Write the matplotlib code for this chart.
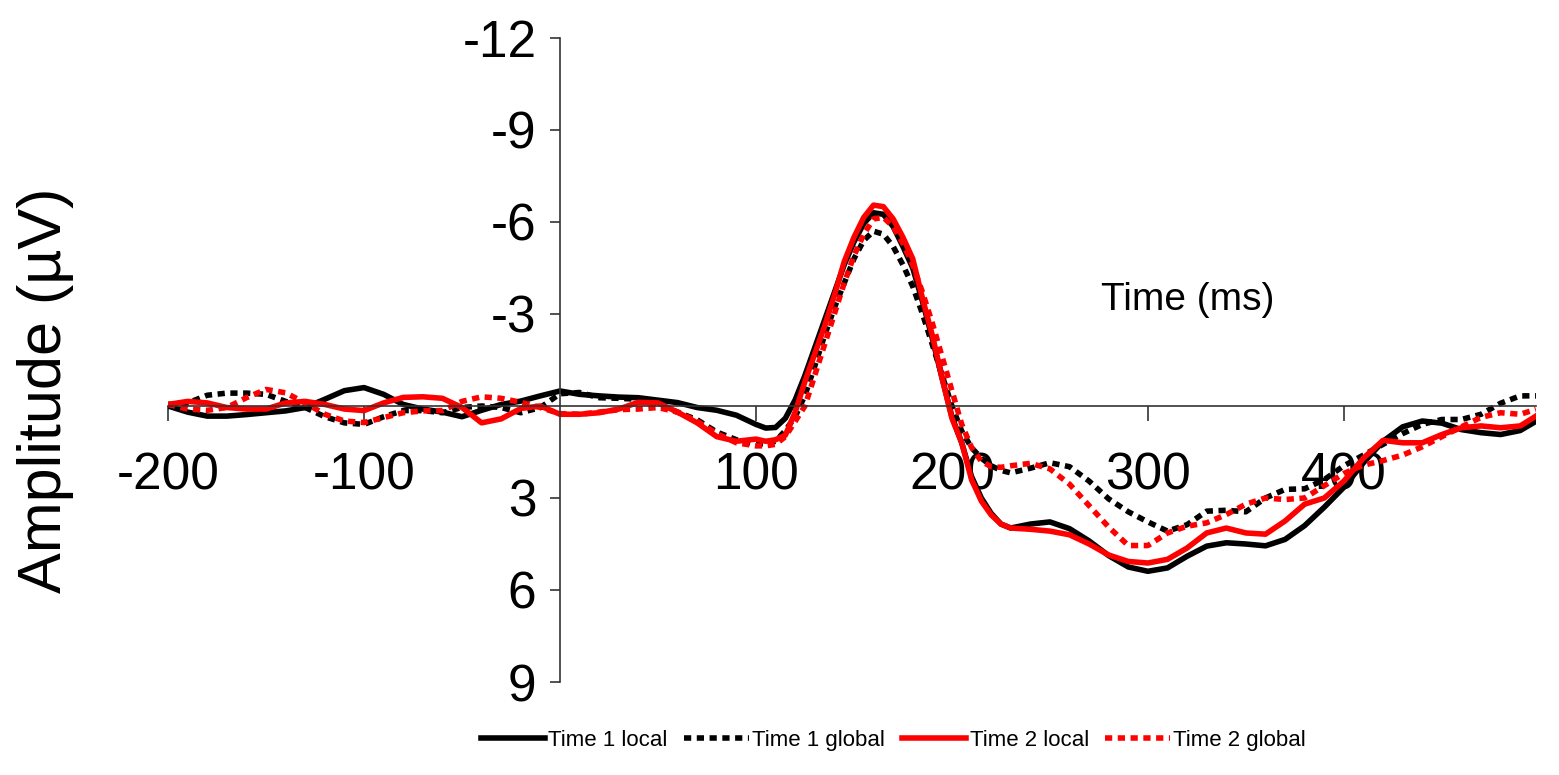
import numpy as np
import matplotlib
matplotlib.use("Agg")
import matplotlib.pyplot as plt

plt.rcParams['font.family'] = ['Liberation Sans', 'DejaVu Sans']
plt.rcParams['axes.unicode_minus'] = False

# time points (ms)
time_ms = [-200, -190, -180, -170, -160, -150, -140, -130, -120, -110, -100, -90, -80, -70, -60,
           -50, -40, -30, -20, -10, 0, 10, 20, 30, 40, 50, 60, 70, 80, 90, 100,
           105, 110, 115, 120, 125, 130, 135, 140, 145, 150, 155, 160, 165, 170, 175, 180,
           185, 190, 195, 200, 205, 210, 215, 220, 225, 230,
           240, 250, 260, 270, 280, 290, 300, 310, 320, 330, 340, 350, 360, 370, 380, 390,
           400, 410, 420, 430, 440, 450, 460, 470, 480, 490, 498]

time1_local = [0.0, 0.2, 0.33, 0.33, 0.28, 0.22, 0.16, 0.05, -0.22, -0.5, -0.6, -0.38, -0.05, 0.1, 0.2,
               0.35, 0.14, -0.05, -0.16, -0.33, -0.49, -0.38, -0.33, -0.29, -0.27, -0.19, -0.11, 0.05, 0.14, 0.3, 0.6,
               0.72, 0.7, 0.4, -0.2, -1.0, -1.9, -2.8, -3.7, -4.6, -5.35, -5.95, -6.3, -6.25, -5.85, -5.2, -4.5,
               -3.4, -2.2, -0.9, 0.35, 1.2, 2.3, 3.0, 3.5, 3.85, 3.98,
               3.85, 3.78, 4.0, 4.4, 4.88, 5.25, 5.39, 5.28, 4.9, 4.57, 4.46, 4.5, 4.56, 4.35, 3.9, 3.3,
               2.65, 1.85, 1.15, 0.68, 0.49, 0.56, 0.77, 0.87, 0.93, 0.8, 0.5]

time1_global = [-0.05, -0.1, -0.35, -0.42, -0.42, -0.38, -0.15, 0.05, 0.35, 0.55, 0.6, 0.35, 0.15, 0.15, 0.22,
                0.05, 0.0, 0.05, 0.22, 0.05, -0.4, -0.44, -0.27, -0.25, -0.22, -0.05, 0.2, 0.45, 0.85, 1.1, 1.25,
                1.22, 1.15, 0.8, 0.35, -0.35, -1.3, -2.3, -3.2, -4.0, -4.8, -5.4, -5.7, -5.6, -5.2, -4.6, -3.9,
                -3.0, -2.0, -1.0, 0.0, 0.82, 1.36, 1.7, 1.95, 2.1, 2.18,
                2.03, 1.85, 1.98, 2.45, 3.03, 3.45, 3.78, 4.08, 3.87, 3.43, 3.4, 3.45, 3.0, 2.72, 2.7, 2.4,
                1.95, 1.6, 1.25, 0.9, 0.6, 0.44, 0.44, 0.27, -0.09, -0.33, -0.33]

time2_local = [-0.05, -0.15, -0.1, 0.05, 0.1, 0.1, -0.1, -0.15, -0.05, 0.1, 0.15, -0.1, -0.28, -0.3, -0.25,
               0.05, 0.55, 0.42, 0.08, 0.0, 0.27, 0.27, 0.22, 0.1, -0.12, -0.1, 0.2, 0.55, 1.0, 1.15, 1.08,
               1.15, 1.1, 0.95, 0.2, -0.8, -1.7, -2.6, -3.6, -4.7, -5.5, -6.15, -6.55, -6.5, -6.1, -5.5, -4.8,
               -3.5, -2.3, -0.9, 0.4, 1.2, 2.4, 3.1, 3.55, 3.85, 3.98,
               4.02, 4.08, 4.2, 4.5, 4.86, 5.07, 5.12, 5.0, 4.63, 4.14, 3.98, 4.14, 4.18, 3.75, 3.2, 3.0,
               2.45, 1.7, 1.12, 1.2, 1.2, 0.93, 0.71, 0.65, 0.71, 0.65, 0.33]

time2_global = [-0.05, 0.1, 0.14, 0.05, -0.27, -0.54, -0.43, -0.1, 0.27, 0.49, 0.54, 0.38, 0.22, 0.16, 0.15,
                -0.15, -0.3, -0.25, -0.12, 0.05, 0.25, 0.27, 0.2, 0.12, 0.1, 0.05, 0.2, 0.5, 0.9, 1.2, 1.3,
                1.3, 1.25, 1.0, 0.5, 0.0, -1.0, -2.0, -3.0, -4.0, -4.9, -5.6, -6.1, -6.15, -5.85, -5.3, -4.6,
                -3.7, -2.7, -1.6, -0.5, 0.6, 1.35, 1.8, 1.98, 2.0, 1.95,
                1.87, 2.05, 2.55, 3.25, 3.95, 4.55, 4.55, 4.14, 3.92, 3.81, 3.54, 3.2, 3.0, 3.05, 3.0, 2.6,
                2.2, 1.93, 1.78, 1.6, 1.33, 1.0, 0.68, 0.37, 0.22, 0.27, 0.11]

x_ticks = [-200, -100, 100, 200, 300, 400]
y_ticks = [-12, -9, -6, -3, 3, 6, 9]

fig = plt.figure(figsize=(15.59, 7.75), dpi=100)
ax = fig.add_axes([0.1078, 0.12, 0.8774, 0.831])

lw = 4.0
dots = (0, (1.3, 1.0))
ax.plot(time_ms, time1_local, color='black', lw=lw, solid_joinstyle='round', label='Time 1 local')
ax.plot(time_ms, time1_global, color='black', lw=lw, linestyle=dots, dash_capstyle='butt', label='Time 1 global')
ax.plot(time_ms, time2_local, color='#ff0000', lw=lw, solid_joinstyle='round', label='Time 2 local')
ax.plot(time_ms, time2_global, color='#ff0000', lw=lw, linestyle=dots, dash_capstyle='butt', label='Time 2 global')

ax.set_xlim(-200, 498)
ax.set_ylim(9, -12)

ax.spines['left'].set_position(('data', 0))
ax.spines['bottom'].set_position(('data', 0))
ax.spines['top'].set_visible(False)
ax.spines['right'].set_visible(False)
for s in ['left', 'bottom']:
    ax.spines[s].set_color('#333333')
    ax.spines[s].set_linewidth(1.2)

ax.set_xticks(x_ticks)
ax.set_yticks(y_ticks)
ax.tick_params(axis='x', direction='out', length=11, width=1.2, color='#333333', labelsize=37, pad=22)
ax.tick_params(axis='y', direction='out', length=7, width=1.2, color='#333333', labelsize=37, pad=10)

fig.text(0.029, 0.497, 'Amplitude (µV)', rotation=90, fontsize=44, ha='center', va='center')
ax.text(0.7456, 0.593, 'Time (ms)', transform=ax.transAxes, fontsize=28, ha='center', va='center')

fig.legend(loc='center', bbox_to_anchor=(0.573, 0.045), ncol=4, frameon=False, fontsize=16,
           handlelength=2.9, handletextpad=0.15, columnspacing=0.75)

fig.savefig('out.png', dpi=100)
